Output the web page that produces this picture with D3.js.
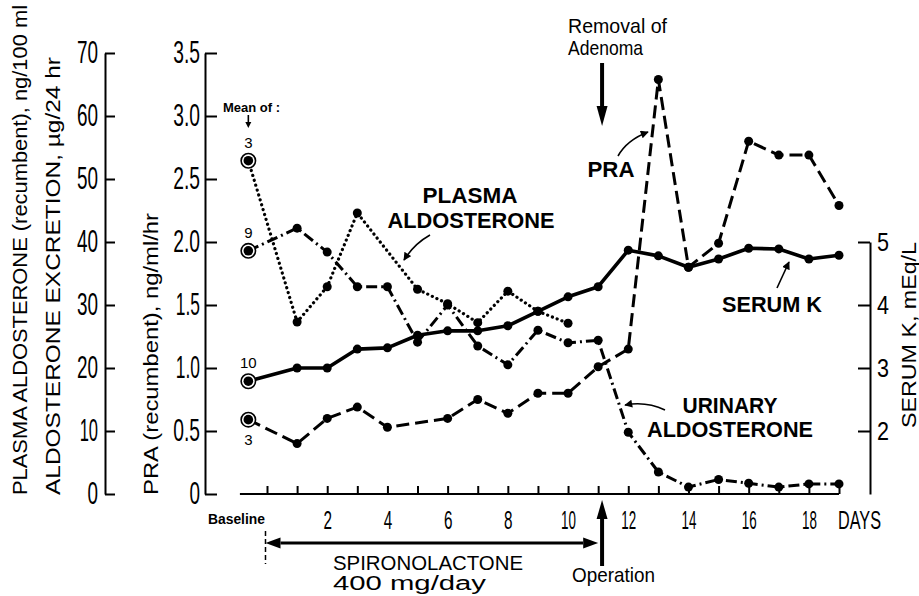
<!DOCTYPE html>
<html>
<head>
<meta charset="utf-8">
<script src="https://cdn.jsdelivr.net/npm/d3@7"></script>
<style>
body { margin: 0; background: #fff; }
svg { display: block; }
</style>
</head>
<body>
<div id="chart"></div>
<script>
// days after start of spironolactone, baseline is drawn just left of day 0
var days = d3.range(1, 20)
var baselineDay = -0.62
var operationDay = 11.13

// serum K, mEq/L
var serumK0 = 2.79
var serumK = [3.00, 3.00, 3.30, 3.32, 3.52, 3.59, 3.59, 3.67, 3.90, 4.13,
    4.29, 4.87, 4.78, 4.60, 4.73, 4.90, 4.89, 4.73, 4.79]

// PRA (recumbent), ng/ml/hr
var pra0 = 0.59
var pra = [0.40, 0.60, 0.69, 0.53, null, 0.60, 0.75, 0.64, 0.80, 0.80,
    1.01, 1.15, 3.29, 1.80, 1.99, 2.80, 2.69, 2.69, 2.29]

// plasma aldosterone (recumbent), ng/100 ml
var plasmaAldo0 = 52.9
var plasmaAldo = [27.3, 32.9, 44.6, null, 32.5, 30.2, 27.2, 32.2, 29.0, 27.1,
    null, null, null, null, null, null, null, null, null]

// urinary aldosterone excretion, ug/24 hr
var urinaryAldo0 = 38.6
var urinaryAldo = [42.2, 38.4, 32.9, 32.9, 24.1, 30.0, 23.5, 20.5, 26.0, 24.0,
    24.4, 9.8, 3.5, 1.1, 2.3, 1.7, 1.1, 1.6, 1.6]

// number of samples averaged for each baseline point
var meanN = {plasma: 3, urinary: 9, serumK: 10, pra: 3}

// tick values
var leftTicks = [0, 10, 20, 30, 40, 50, 60, 70]
var praTicks = [0, 0.5, 1.0, 1.5, 2.0, 2.5, 3.0, 3.5]
var kTicks = [2, 3, 4, 5]
var dayTicks = d3.range(0, 20)
var dayLabels = [2, 4, 6, 8, 10, 12, 14, 16, 18]

var W = 919, H = 596
var FONT = "'Liberation Sans', Arial, sans-serif"

var svg = d3.select("#chart").append("svg")
    .attr("width", W)
    .attr("height", H)
    .style("font-family", FONT)

var x = d3.scaleLinear().domain([0, 19]).range([267, 839])
var yL = d3.scaleLinear().domain([0, 70]).range([494, 53])
var yP = d3.scaleLinear().domain([0, 3.5]).range([494, 53])
var yK = d3.scaleLinear().domain([1, 5]).range([494, 242])

// squeeze tick digits to the tall narrow look of the original
function squeeze(sel, digitW) {
    sel.each(function () {
        var t = this.textContent
        if (!t) return
        var w = 0
        for (var i = 0; i < t.length; i++) {
            w += t[i] === "." ? digitW * 0.55 : (t[i] === "1" ? digitW * 0.75 : digitW)
        }
        d3.select(this).attr("textLength", w).attr("lengthAdjust", "spacingAndGlyphs")
    })
}

function styleAxis(g, size, digitW) {
    g.selectAll("path").attr("stroke", "#000").attr("stroke-width", 2)
    g.selectAll("line").attr("stroke", "#000").attr("stroke-width", 2)
    g.selectAll("text")
        .attr("fill", "#000")
        .style("font-family", FONT)
        .style("font-size", size + "px")
        .call(squeeze, digitW)
    g.attr("font-family", null).attr("font-size", null)
}

// left axis: plasma / urinary aldosterone
var gL = svg.append("g")
    .attr("transform", "translate(105,0)")
    .call(d3.axisLeft(yL).tickValues(leftTicks).tickSizeInner(-10).tickSizeOuter(0).tickPadding(7))
styleAxis(gL, 31, 10.5)

// PRA axis
var gP = svg.append("g")
    .attr("transform", "translate(205,0)")
    .call(d3.axisLeft(yP).tickValues(praTicks).tickSizeInner(-12).tickSizeOuter(0).tickPadding(5)
        .tickFormat(function (d) { return d === 0 ? "0" : d3.format(".1f")(d) }))
styleAxis(gP, 31, 10.5)

// serum K axis (right)
var gK = svg.append("g")
    .attr("transform", "translate(870,0)")
    .call(d3.axisRight(yK).tickValues(kTicks).tickSizeInner(-12).tickSizeOuter(0).tickPadding(7)
        .tickFormat(d3.format("d")))
styleAxis(gK, 26, 12)

// day axis
var gX = svg.append("g")
    .attr("transform", "translate(0,494)")
    .call(d3.axisBottom(x).tickValues(dayTicks).tickSizeInner(-8).tickSizeOuter(0).tickPadding(17)
        .tickFormat(function (d) { return dayLabels.indexOf(d) >= 0 ? d : "" }))
gX.select(".domain").remove()
styleAxis(gX, 25, 8.5)
gX.append("line")
    .attr("x1", x(-0.9)).attr("x2", x(19))
    .attr("stroke", "#000").attr("stroke-width", 2)

svg.append("text")
    .attr("x", x(19) - 1).attr("y", 529)
    .style("font-size", "25px")
    .attr("textLength", 43).attr("lengthAdjust", "spacingAndGlyphs")
    .text("DAYS")

svg.append("text")
    .attr("x", 208).attr("y", 524)
    .style("font-size", "14px").style("font-weight", "bold")
    .attr("textLength", 57).attr("lengthAdjust", "spacingAndGlyphs")
    .text("Baseline")

// axis titles
function vtitle(cx, cy, size, len, txt) {
    svg.append("text")
        .attr("transform", "translate(" + cx + "," + cy + ") rotate(-90)")
        .attr("text-anchor", "middle")
        .style("font-size", size + "px")
        .attr("textLength", len).attr("lengthAdjust", "spacingAndGlyphs")
        .text(txt)
}
vtitle(27, 250, 21, 490, "PLASMA ALDOSTERONE (recumbent), ng/100 ml")
vtitle(60, 276, 21, 438, "ALDOSTERONE EXCRETION, \u00b5g/24 hr")
vtitle(158, 354, 21, 282, "PRA (recumbent), ng/ml/hr")
vtitle(916, 335, 20, 186, "SERUM K, mEq/L")

// series
function points(v0, arr) {
    var p = [{d: baselineDay, v: v0}]
    days.forEach(function (d, i) {
        if (arr[i] != null) p.push({d: d, v: arr[i]})
    })
    return p
}

var series = [
    {key: "urinary", v0: urinaryAldo0, vals: urinaryAldo, y: yL, dash: "11,4,2,4", width: 3, cap: "butt"},
    {key: "plasma", v0: plasmaAldo0, vals: plasmaAldo, y: yL, dash: "0.1,5", width: 3.2, cap: "round"},
    {key: "pra", v0: pra0, vals: pra, y: yP, dash: "13,6", width: 3, cap: "butt"},
    {key: "serumK", v0: serumK0, vals: serumK, y: yK, dash: null, width: 3.6, cap: "butt"}
]

series.forEach(function (s) {
    var pts = points(s.v0, s.vals)
    var line = d3.line()
        .x(function (p) { return x(p.d) })
        .y(function (p) { return s.y(p.v) })
    svg.append("path")
        .datum(pts)
        .attr("d", line)
        .attr("fill", "none")
        .attr("stroke", "#000")
        .attr("stroke-width", s.width)
        .attr("stroke-linecap", s.cap)
        .attr("stroke-linejoin", "round")
        .attr("stroke-dasharray", s.dash)
    svg.selectAll(null)
        .data(pts.slice(1))
        .enter().append("circle")
        .attr("cx", function (p) { return x(p.d) })
        .attr("cy", function (p) { return s.y(p.v) })
        .attr("r", 4.5)
        .attr("fill", "#000")
    // baseline: ringed dot
    svg.append("circle")
        .attr("cx", x(baselineDay)).attr("cy", s.y(s.v0))
        .attr("r", 7.2).attr("fill", "#fff").attr("stroke", "#000").attr("stroke-width", 1.6)
    svg.append("circle")
        .attr("cx", x(baselineDay)).attr("cy", s.y(s.v0))
        .attr("r", 4.8).attr("fill", "#000")
    var below = s.key === "pra"
    svg.append("text")
        .attr("x", x(baselineDay)).attr("y", s.y(s.v0) + (below ? 25 : -13))
        .attr("text-anchor", "middle")
        .style("font-size", "15px")
        .text(meanN[s.key])
})

svg.append("text")
    .attr("x", 223).attr("y", 112)
    .style("font-size", "13px").style("font-weight", "bold")
    .attr("textLength", 57).attr("lengthAdjust", "spacingAndGlyphs")
    .text("Mean of :")

// arrows
var defs = svg.append("defs")
defs.append("marker")
    .attr("id", "head")
    .attr("markerUnits", "userSpaceOnUse")
    .attr("viewBox", "0 0 10 10")
    .attr("refX", 9).attr("refY", 5)
    .attr("markerWidth", 9).attr("markerHeight", 8)
    .attr("orient", "auto")
    .append("path").attr("d", "M0,0 L10,5 L0,10 z").attr("fill", "#000")

function arrow(x1, y1, x2, y2, w, hl, hw, both) {
    var dx = x2 - x1, dy = y2 - y1, L = Math.sqrt(dx * dx + dy * dy)
    var ux = dx / L, uy = dy / L
    var sx = both ? x1 + ux * hl : x1, sy = both ? y1 + uy * hl : y1
    svg.append("line")
        .attr("x1", sx).attr("y1", sy)
        .attr("x2", x2 - ux * hl).attr("y2", y2 - uy * hl)
        .attr("stroke", "#000").attr("stroke-width", w)
    function head(tx, ty, vx, vy) {
        var bx = tx - vx * hl, by = ty - vy * hl
        svg.append("polygon")
            .attr("points", [[tx, ty], [bx - vy * hw / 2, by + vx * hw / 2], [bx + vy * hw / 2, by - vx * hw / 2]].join(" "))
            .attr("fill", "#000")
    }
    head(x2, y2, ux, uy)
    if (both) head(x1, y1, -ux, -uy)
}

// removal of adenoma
arrow(x(operationDay), 63, x(operationDay), 126, 4, 20, 11, false)
// operation
arrow(x(operationDay), 566, x(operationDay), 500, 4, 19, 11, false)
// spironolactone period
arrow(x(-0.05), 543, x(11.0), 543, 3, 15, 11, true)
svg.append("line")
    .attr("x1", x(-0.05)).attr("x2", x(-0.05))
    .attr("y1", 531).attr("y2", 564)
    .attr("stroke", "#000").attr("stroke-width", 1.5)
    .attr("stroke-dasharray", "5,3")
// mean of
arrow(x(baselineDay), 115, x(baselineDay), 128, 1.6, 6, 6, false)

function curveArrow(d) {
    svg.append("path")
        .attr("d", d)
        .attr("fill", "none")
        .attr("stroke", "#000")
        .attr("stroke-width", 1.6)
        .attr("marker-end", "url(#head)")
}
curveArrow("M430,235 Q414,244 404,260")
curveArrow("M618,156 Q627,140 648,132")
curveArrow("M665,410 Q646,401 625,405")
curveArrow("M777,288 L789,262")

// labels
function label(txt, cx, y, len, size, bold, anchor) {
    svg.append("text")
        .attr("x", cx).attr("y", y)
        .attr("text-anchor", anchor || "middle")
        .style("font-size", size + "px")
        .style("font-weight", bold ? "bold" : "normal")
        .attr("textLength", len).attr("lengthAdjust", "spacingAndGlyphs")
        .text(txt)
}
label("PLASMA", 470, 203, 95, 22, true)
label("ALDOSTERONE", 471, 228, 167, 22, true)
label("PRA", 611, 177, 47, 22, true)
label("SERUM K", 772, 312, 100, 22, true)
label("URINARY", 730, 413, 95, 22, true)
label("ALDOSTERONE", 730, 437, 166, 22, true)

label("Removal of", 568, 33, 99, 21, false, "start")
label("Adenoma", 568, 55, 75, 21, false, "start")
label("Operation", 572, 582, 83, 21, false, "start")
label("SPIRONOLACTONE", 333, 570, 190, 20, false, "start")
label("400 mg/day", 333, 590, 153, 20, false, "start")
</script>
</body>
</html>
